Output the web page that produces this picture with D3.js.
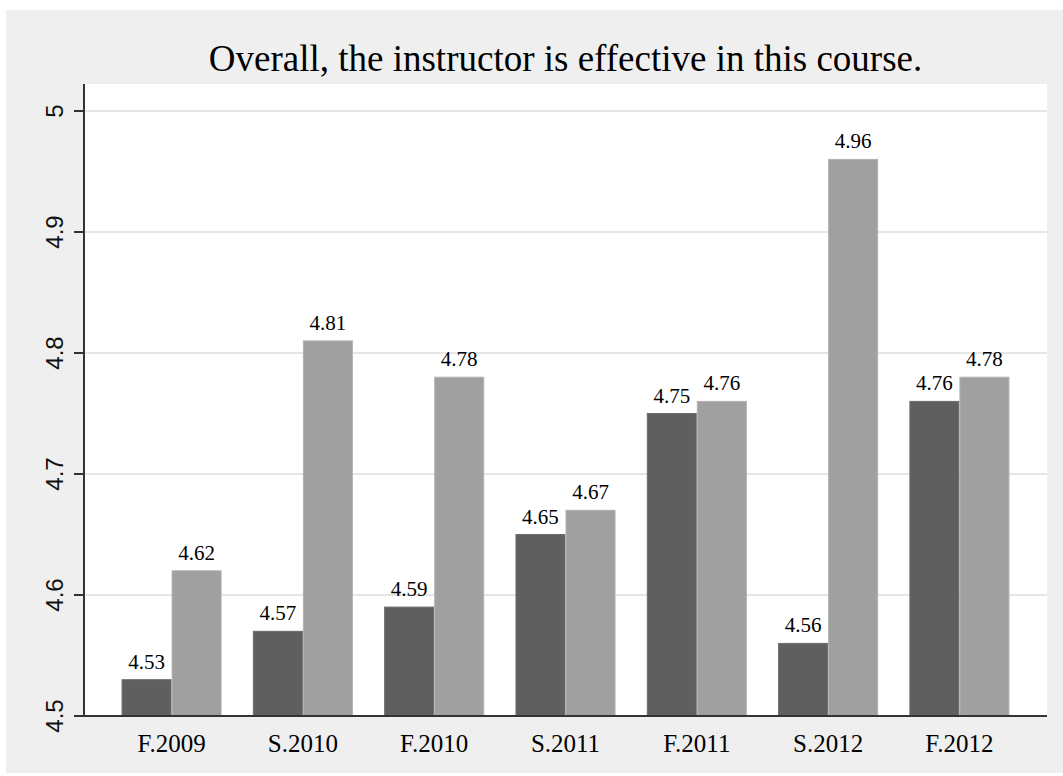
<!DOCTYPE html>
<meta charset="utf-8">
<style>
    body { margin: 0; background: #fff; }
    svg text.tick-y { font-family: "Liberation Sans", Arial, sans-serif; font-size: 24px; fill: #111 }
    svg text.serif { font-family: "Liberation Serif", "Times New Roman", serif; fill: #000 }
</style>
<body>
<script src="https://cdn.jsdelivr.net/npm/d3@7"></script>
<script>
    // data
    var terms = ["F.2009", "S.2010", "F.2010", "S.2011", "F.2011", "S.2012", "F.2012"];
    var seriesA = [4.53, 4.57, 4.59, 4.65, 4.75, 4.56, 4.76];   // dark bars
    var seriesB = [4.62, 4.81, 4.78, 4.67, 4.76, 4.96, 4.78];   // light bars
    var yTicks = [4.5, 4.6, 4.7, 4.8, 4.9, 5];
    var title = "Overall, the instructor is effective in this course.";

    var w = 1063, h = 776;
    var plot = {x0: 84, x1: 1047, y0: 84, y1: 716};

    var svg = d3.select("body").append("svg")
        .attr("width", w)
        .attr("height", h);

    // grey frame behind everything
    svg.append("rect")
        .attr("x", 6).attr("y", 10)
        .attr("width", w - 6).attr("height", 763)
        .attr("fill", "#efefef");

    svg.append("rect")
        .attr("x", plot.x0).attr("y", plot.y0)
        .attr("width", plot.x1 - plot.x0).attr("height", plot.y1 - plot.y0)
        .attr("fill", "#fff");

    var y = d3.scaleLinear().domain([4.5, 5]).range([plot.y1, 111]);

    var x = d3.scaleBand().domain(terms)
        .range([plot.x0, plot.x1])
        .paddingInner(0.238)
        .paddingOuter(0.286);

    var x2 = d3.scaleBand().domain(["a", "b"]).range([0, x.bandwidth()]);

    // gridlines
    svg.selectAll("line.grid")
        .data(yTicks.slice(1))
        .enter()
        .append("line")
        .attr("class", "grid")
        .attr("x1", plot.x0).attr("x2", plot.x1)
        .attr("y1", function(d) { return y(d) })
        .attr("y2", function(d) { return y(d) })
        .attr("stroke", "#e6e6e6")
        .attr("stroke-width", 2);

    var rows = terms.map(function(t, i) {
        return [{term: t, key: "a", v: seriesA[i]}, {term: t, key: "b", v: seriesB[i]}];
    });
    var bars = d3.merge(rows);

    svg.selectAll("rect.bar")
        .data(bars)
        .enter()
        .append("rect")
        .attr("class", "bar")
        .attr("x", function(d) { return x(d.term) + x2(d.key) + 0.5 })
        .attr("y", function(d) { return y(d.v) })
        .attr("width", x2.bandwidth() - 1)
        .attr("height", function(d) { return plot.y1 - y(d.v) })
        .attr("fill", function(d) { return d.key == "a" ? "#5f5f5f" : "#a0a0a0" })
        .attr("stroke", function(d) { return d.key == "a" ? "#6c6c6c" : "#b2b2b2" })
        .attr("stroke-width", 1);

    // value labels
    svg.selectAll("text.val")
        .data(bars)
        .enter()
        .append("text")
        .attr("class", "serif")
        .attr("font-size", 21)
        .attr("text-anchor", "middle")
        .attr("x", function(d) { return x(d.term) + x2(d.key) + x2.bandwidth() / 2 })
        .attr("y", function(d) { return y(d.v) - 11 })
        .text(function(d) { return d.v.toFixed(2) });

    // axes lines
    svg.append("line")
        .attr("x1", plot.x0).attr("x2", plot.x0)
        .attr("y1", plot.y0).attr("y2", plot.y1 + 1)
        .attr("stroke", "#333").attr("stroke-width", 2);
    svg.append("line")
        .attr("x1", plot.x0 - 10).attr("x2", plot.x1)
        .attr("y1", plot.y1).attr("y2", plot.y1)
        .attr("stroke", "#333").attr("stroke-width", 2);

    // y ticks
    svg.selectAll("line.ytick")
        .data(yTicks)
        .enter()
        .append("line")
        .attr("x1", plot.x0 - 10).attr("x2", plot.x0)
        .attr("y1", function(d) { return y(d) })
        .attr("y2", function(d) { return y(d) })
        .attr("stroke", "#333").attr("stroke-width", 2);

    svg.selectAll("text.tick-y")
        .data(yTicks)
        .enter()
        .append("text")
        .attr("class", "tick-y")
        .attr("text-anchor", "middle")
        .attr("transform", function(d) { return "translate(63," + y(d) + ") rotate(-90)" })
        .text(function(d) { return d });

    // x labels
    svg.selectAll("text.xlab")
        .data(terms)
        .enter()
        .append("text")
        .attr("class", "serif")
        .attr("font-size", 25)
        .attr("text-anchor", "middle")
        .attr("x", function(d) { return x(d) + x.bandwidth() / 2 })
        .attr("y", 752)
        .text(function(d) { return d });

    svg.append("text")
        .attr("class", "serif")
        .attr("font-size", 37)
        .attr("text-anchor", "middle")
        .attr("x", (plot.x0 + plot.x1) / 2)
        .attr("y", 71)
        .text(title);
</script>
</body>
